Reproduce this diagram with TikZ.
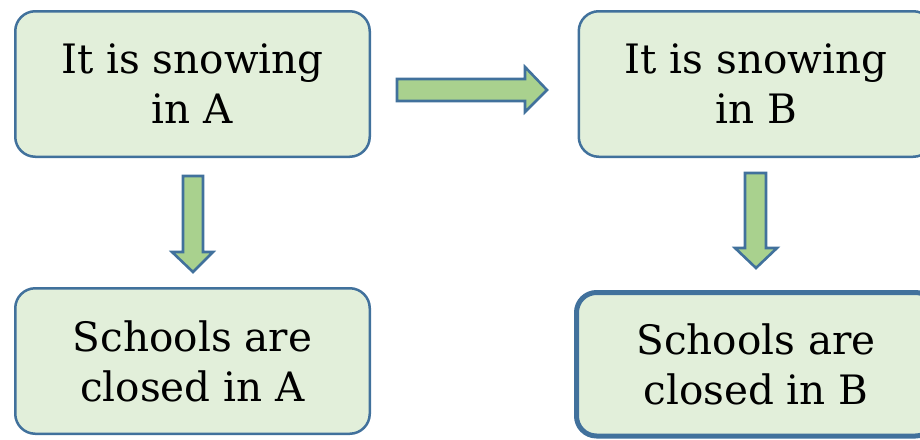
\documentclass[tikz,border=0pt]{standalone}
\usepackage{fontspec}
\setmainfont{DejaVu Serif}
\definecolor{edgeblue}{HTML}{41719C}
\definecolor{boxfill}{HTML}{E2EFDA}
\definecolor{arrowfill}{HTML}{A9D18E}
\begin{document}
\begin{tikzpicture}[x=1pt,y=-1pt,
  textbox/.style={draw=edgeblue, fill=boxfill, line width=2.5pt, rounded corners=20pt,
    minimum width=354.5pt, minimum height=145.5pt, inner sep=0pt, align=center,
    font=\fontsize{40.5}{50}\selectfont},
  blockarrow/.style={draw=edgeblue, fill=arrowfill, line width=2.6pt, line join=miter}]
\useasboundingbox (0,0) rectangle (920,439);
\node[textbox] (sa) at (192.5,84) {It is snowing\\in A};
\node[textbox] (sb) at (756,84) {It is snowing\\in B};
\node[textbox] (ca) at (192.5,361) {Schools are\\closed in A};
\node[textbox, line width=5pt, minimum width=359pt, minimum height=143.5pt] (cb) at (756,364.25) {Schools are\\closed in B};
\draw[blockarrow] (397,79) -- (525,79) -- (525,67) -- (547,90) -- (525,112) -- (525,101) -- (397,101) -- cycle;
\draw[blockarrow] (183,176) -- (203,176) -- (203,252) -- (213,252) -- (193,272) -- (172,252) -- (183,252) -- cycle;
\draw[blockarrow] (745,173) -- (766,173) -- (766,248) -- (777,248) -- (756,268) -- (735,248) -- (745,248) -- cycle;
\end{tikzpicture}
\end{document}
